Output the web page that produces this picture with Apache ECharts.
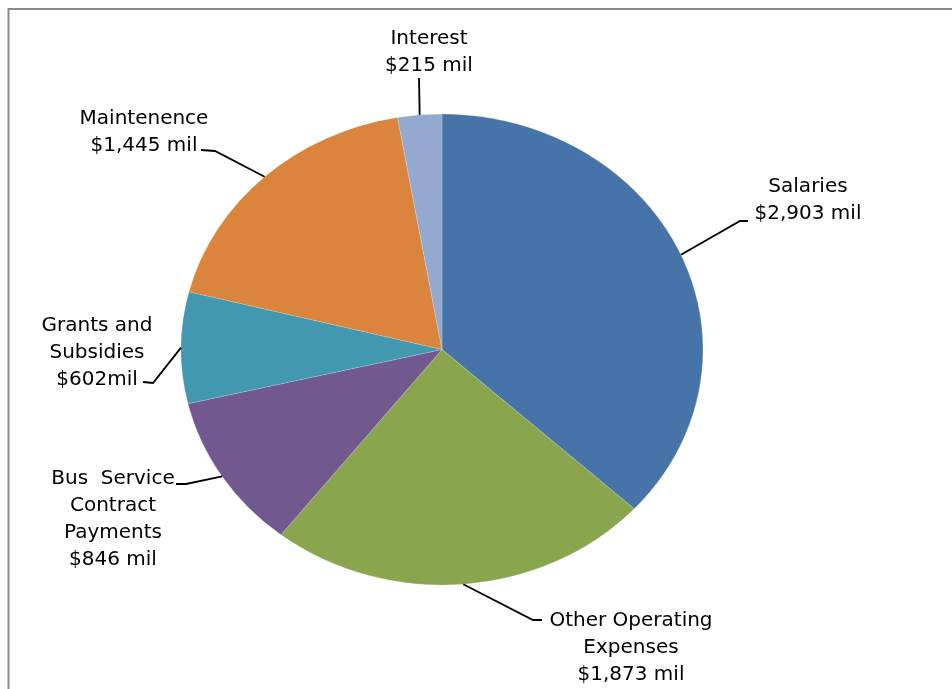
<!DOCTYPE html>
<html>
<head>
<meta charset="utf-8">
<script src="https://cdn.jsdelivr.net/npm/echarts@6/dist/echarts.min.js"></script>
<style>
  html, body { margin: 0; padding: 0; background: #fff; }
  #chart { width: 952px; height: 689px; }
</style>
</head>
<body>
<div id="chart"></div>
<script>
// Budget breakdown, clockwise from the top
const categories = ['Salaries', 'Other Operating Expenses', 'Bus Service Contract Payments',
  'Grants and Subsidies', 'Maintenence', 'Interest'];
const values = [2903, 1873, 846, 602, 1445, 215];
const labelNames = ['Salaries', 'Other Operating\nExpenses', 'Bus  Service\nContract\nPayments',
  'Grants and\nSubsidies', 'Maintenence', 'Interest'];
const valueGaps = [' ', ' ', ' ', '', ' ', ' '];
const colors = ['#4674a8', '#89a54e', '#71598f', '#4198af', '#db843d', '#93a9d0'];

// Label block placement: text centre x, text top y, elbow point, line end
const labelLayout = [
  { x: 808, y: 173, elbow: [740, 221], end: [748, 221] },
  { x: 631, y: 607, elbow: [533, 620], end: [542, 620] },
  { x: 113, y: 465, elbow: [186, 484], end: [176, 484] },
  { x: 97,  y: 312, elbow: [153, 383], end: [143, 382] },
  { x: 144, y: 105, elbow: [215, 151], end: [201, 150] },
  { x: 429, y: 25,  elbow: null,       end: [419, 78] }
];

const total = values.reduce((a, b) => a + b, 0);
let acc = 0;
const sliceData = values.map((v, i) => {
  const item = [1, acc, acc + v, i];
  acc += v;
  return item;
});

const RX = 261, RY = 235.5;

function fmt(v) { return '$' + v.toLocaleString('en-US'); }

function renderSlice(params, api) {
  const cs = params.coordSys;
  const cx = cs.cx, cy = cs.cy;
  const i = api.value(3);
  const p0 = api.coord([1, api.value(1)]);
  const p1 = api.coord([1, api.value(2)]);
  let a0 = Math.atan2(p0[1] - cy, p0[0] - cx);
  let a1 = Math.atan2(p1[1] - cy, p1[0] - cx);
  while (a1 <= a0) a1 += Math.PI * 2;
  const mid = (a0 + a1) / 2;
  const sy = RY / cs.r;
  const edge = [cx + cs.r * Math.cos(mid), cy + cs.r * sy * Math.sin(mid)];
  const lay = labelLayout[i];
  const pts = lay.elbow ? [edge, lay.elbow, lay.end] : [edge, lay.end];
  return {
    type: 'group',
    children: [
      {
        type: 'sector',
        shape: { cx: cx, cy: cy, r: cs.r, r0: 0, startAngle: a0, endAngle: a1, clockwise: true },
        originX: cx, originY: cy, scaleY: sy,
        style: { fill: colors[i], stroke: 'rgba(255,255,255,0.3)', lineWidth: 0.6 }
      },
      {
        type: 'polyline',
        shape: { points: pts },
        style: { stroke: '#000', lineWidth: 1.8, fill: null }
      },
      {
        type: 'text',
        x: lay.x, y: lay.y,
        style: {
          text: labelNames[i] + '\n' + fmt(values[i]) + valueGaps[i] + 'mil',
          fill: '#000',
          fontFamily: 'DejaVu Sans',
          fontSize: 20,
          lineHeight: 27,
          align: 'center',
          verticalAlign: 'top'
        }
      }
    ]
  };
}

const chart = echarts.init(document.getElementById('chart'), null, { renderer: 'canvas' });
chart.setOption({
  animation: false,
  backgroundColor: '#fff',
  polar: { center: [442, 349.5], radius: RX },
  angleAxis: { type: 'value', min: 0, max: total, startAngle: 90, clockwise: true, show: false },
  radiusAxis: { type: 'value', min: 0, max: 1, show: false },
  graphic: [{
    type: 'polyline',
    shape: { points: [[8.5, 689], [8.5, 9], [952, 9]] },
    style: { stroke: '#8a8a8a', lineWidth: 2, fill: null },
    silent: true
  }],
  series: [{
    type: 'custom',
    name: 'Budget',
    coordinateSystem: 'polar',
    encode: { radius: 0, angle: 1 },
    data: sliceData,
    renderItem: renderSlice,
    silent: true
  }]
});
</script>
</body>
</html>
